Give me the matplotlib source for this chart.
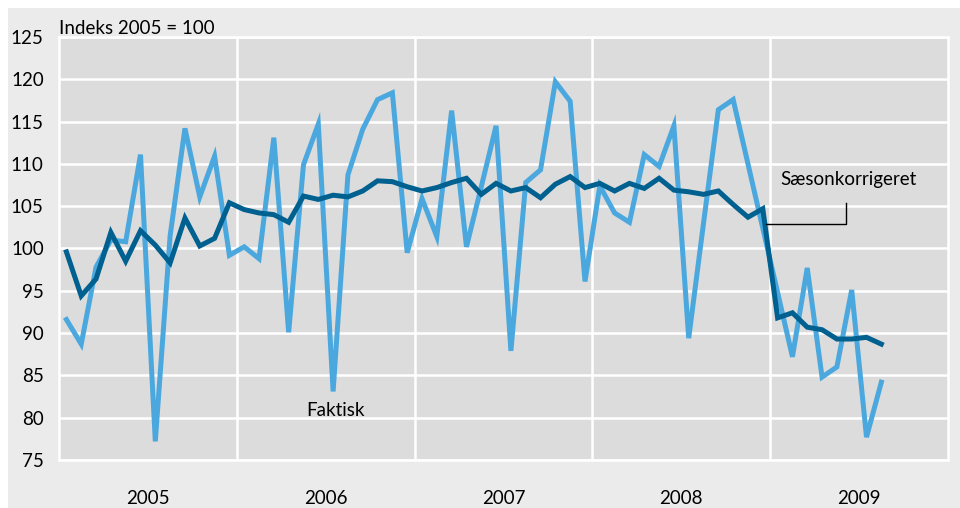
import numpy as np
import matplotlib.pyplot as plt
from matplotlib.patches import Rectangle
from matplotlib.transforms import blended_transform_factory

# månedlige værdier, jan 2005 - aug 2009
faktisk = [91.6, 88.7, 97.8, 101.0, 100.8, 111.1, 77.2, 101.5, 114.2, 106.1, 110.9, 99.2,
           100.2, 98.8, 113.1, 90.1, 109.9, 114.7, 83.1, 108.7, 114.1, 117.6, 118.4, 99.5,
           105.9, 101.4, 116.3, 100.2, 107.3, 114.5, 87.9, 107.8, 109.3, 119.7, 117.4, 96.1,
           107.4, 104.2, 103.1, 111.1, 109.7, 114.5, 89.4, 103.0, 116.4, 117.6, 110.0, 102.4,
           94.8, 87.2, 97.7, 84.8, 86.0, 95.1, 77.7, 84.2]
saeson = [99.6, 94.4, 96.4, 101.9, 98.5, 102.1, 100.4, 98.3, 103.6, 100.3, 101.2, 105.4,
          104.6, 104.2, 104.0, 103.1, 106.2, 105.8, 106.3, 106.1, 106.8, 108.0, 107.9, 107.3,
          106.8, 107.2, 107.8, 108.3, 106.4, 107.7, 106.8, 107.2, 106.0, 107.6, 108.5, 107.2,
          107.7, 106.8, 107.7, 107.1, 108.3, 106.9, 106.7, 106.4, 106.8, 105.2, 103.7, 104.7,
          91.8, 92.4, 90.7, 90.4, 89.3, 89.3, 89.5, 88.7]
years = ['2005', '2006', '2007', '2008', '2009']
yticks = [75, 80, 85, 90, 95, 100, 105, 110, 115, 120, 125]

plt.rcParams['font.family'] = ['Lato', 'DejaVu Sans']

lys = '#4ba8de'
mork = '#00608f'

fig = plt.figure(figsize=(9.6, 5.08), dpi=100, facecolor='white')
bg = Rectangle((8/960, 0), 1, 1 - 8/508, transform=fig.transFigure,
               facecolor='#ebebeb', edgecolor='none', zorder=-10)
fig.add_artist(bg)
ax = fig.add_axes([59/960, 1 - 460/508, (948 - 59)/960, (460 - 37)/508])
ax.set_facecolor('#dcdcdc')

x = np.arange(len(faktisk))
ax.plot(x, faktisk, color=lys, linewidth=3.6, solid_joinstyle='miter', zorder=3)
ax.plot(x, saeson, color=mork, linewidth=3.6, solid_joinstyle='miter', zorder=4)

ax.set_xlim(-0.5, 59.5)
ax.set_ylim(75, 125)

# gitter
for yv in yticks:
    ax.axhline(yv, color='white', linewidth=1.8, zorder=1)
for b in [11.5, 23.5, 35.5, 47.5]:
    ax.axvline(b, color='white', linewidth=1.8, zorder=1)
for s in ax.spines.values():
    s.set_color('white')
    s.set_linewidth(1.8)

ax.set_yticks(yticks)
ax.set_yticklabels([str(v) for v in yticks], fontsize=13.5)
ax.tick_params(axis='y', length=0, pad=11)
ax.set_xticks([])

trans = blended_transform_factory(ax.transData, ax.transAxes)
for i, yr in enumerate(years):
    ax.text(i * 12 + 5.5, -0.092, yr, transform=trans, ha='center', va='center', fontsize=13.5)

ax.text(0, 1.007, 'Indeks 2005 = 100', transform=ax.transAxes, ha='left', va='baseline',
        fontsize=13.5)

# etiketter
ax.text(16.2, 80.8, 'Faktisk', ha='left', va='center', fontsize=13.5, zorder=5)
ax.text(48.2, 108.2, 'Sæsonkorrigeret', ha='left', va='center', fontsize=13.5, zorder=5)
ax.plot([47.2, 52.6, 52.6], [102.9, 102.9, 105.4], color='black', linewidth=1.0, zorder=5)

fig.savefig('out.png', dpi=100, facecolor=fig.get_facecolor())
